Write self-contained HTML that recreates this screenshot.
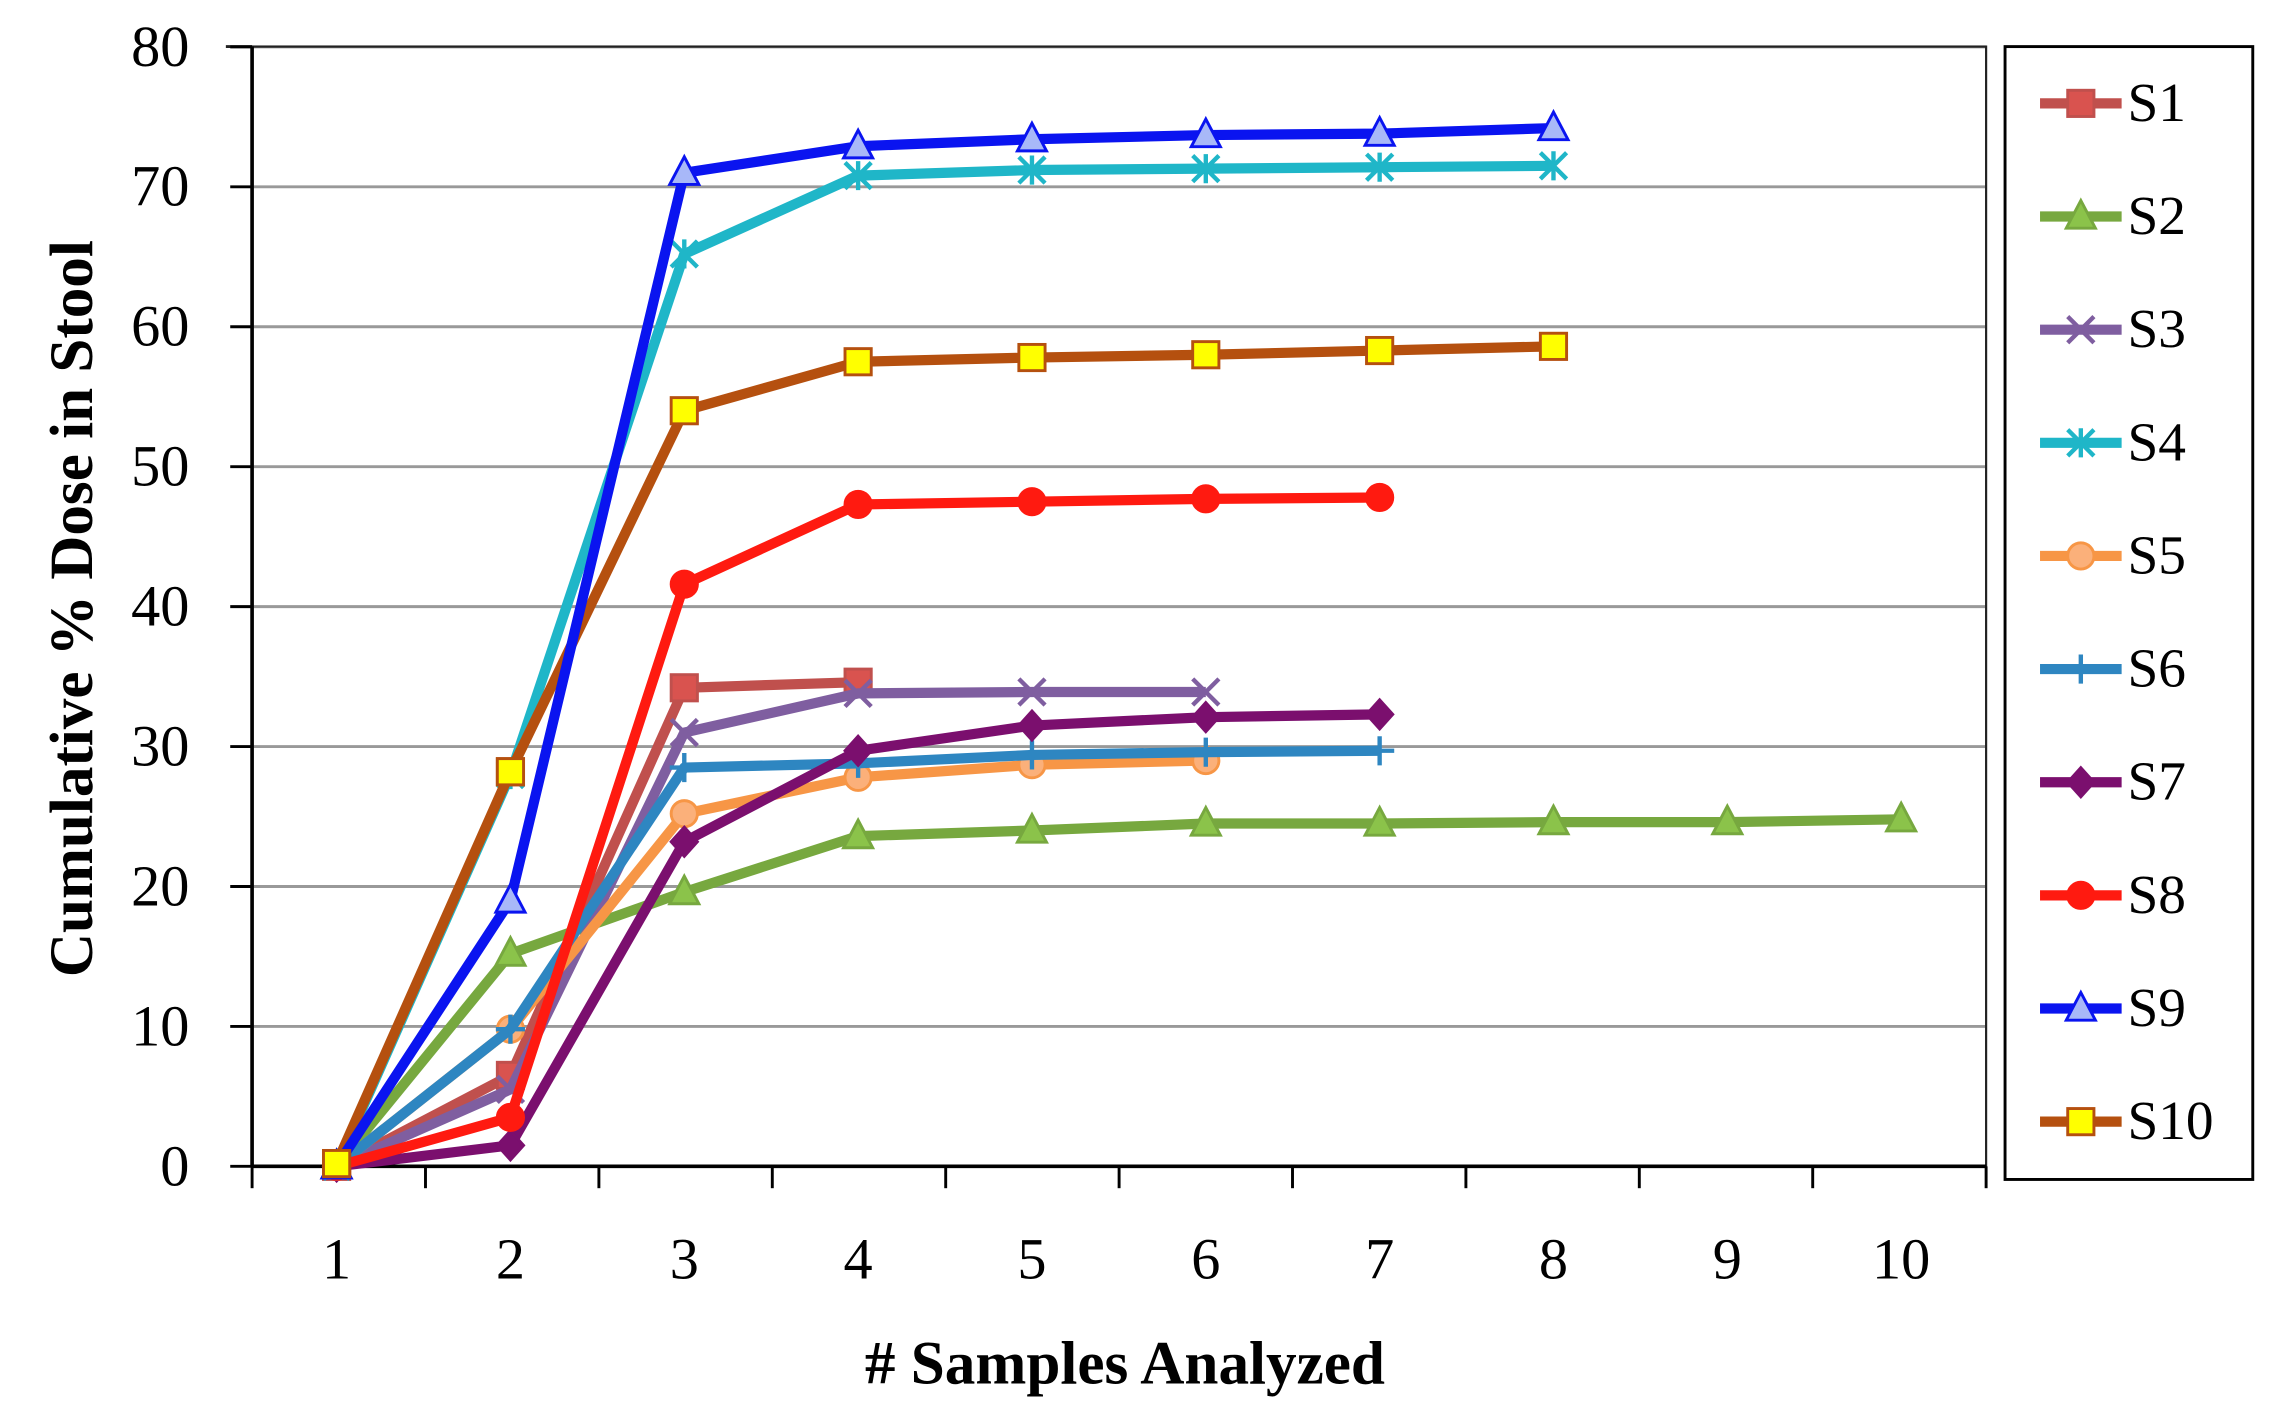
<!DOCTYPE html>
<html><head><meta charset="utf-8"><style>
html,body{margin:0;padding:0;background:#fff;width:2279px;height:1427px;overflow:hidden}
svg{display:block}
text{font-family:"Liberation Serif",serif}
</style></head><body>
<svg id="s" width="2279" height="1427" viewBox="0 0 1564 980" preserveAspectRatio="none" xmlns="http://www.w3.org/2000/svg">
</svg>
<script>
const s=document.getElementById('s');
let h='';
const X=i=>231+(i-1)*119.3, Y=v=>801-v*9.61;
for(let v=10;v<=80;v+=10)h+=`<line x1="173" x2="1363" y1="${Y(v)}" y2="${Y(v)}" stroke="#999" stroke-width="2"/>`;
h+=`<rect x="173" y="32" width="1190" height="769" fill="none" stroke="#222" stroke-width="1.5"/>`;
h+=`<line x1="155" x2="173" y1="32" y2="32" stroke="#222" stroke-width="2"/>`;
h+=`<line x1="173" x2="1363" y1="801" y2="801" stroke="#000" stroke-width="2.5"/>`;
h+=`<line x1="173" x2="173" y1="32" y2="801" stroke="#000" stroke-width="2.5"/>`;
for(let v=0;v<=80;v+=10){h+=`<line x1="158" x2="173" y1="${Y(v)}" y2="${Y(v)}" stroke="#000" stroke-width="2"/><text x="130" y="${Y(v)+13}" font-size="40" text-anchor="end">${v}</text>`;}
for(let i=0;i<=10;i++){const x=173+i*119;h+=`<line x1="${x}" x2="${x}" y1="801" y2="816" stroke="#000" stroke-width="2"/>`;}
for(let i=1;i<=10;i++)h+=`<text x="${X(i)}" y="878" font-size="40" text-anchor="middle">${i}</text>`;
h+=`<text x="772" y="950" font-size="42" font-weight="bold" text-anchor="middle"># Samples Analyzed</text>`;
h+=`<text transform="translate(63,418) rotate(-90)" font-size="42" font-weight="bold" text-anchor="middle">Cumulative % Dose in Stool</text>`;
const S=[
['S1','#c0504d','sq','#d9534f',[0,6.5,34.2,34.6]],
['S2','#77a83f','tri','#8bc34a',[0,15.2,19.6,23.6,24,24.5,24.5,24.6,24.6,24.8]],
['S3','#7f5ea0','x','#8064a2',[0,5.5,31,33.8,33.9,33.9]],
['S4','#1fb6c8','st','#1fb6c8',[0,28,65.2,70.8,71.2,71.3,71.4,71.5]],
['S5','#f79646','ci','#fbb07a',[0,9.8,25.2,27.8,28.7,29]],
['S6','#2e86c1','pl','#2e86c1',[0,9.8,28.5,28.8,29.4,29.6,29.7]],
['S7','#7b0f6e','di','#7b0f6e',[0,1.5,23.2,29.7,31.5,32.1,32.3]],
['S8','#ff1a10','ci','#ff1a10',[0,3.5,41.6,47.3,47.5,47.7,47.8]],
['S9','#0a14f0','tri','#a8b8f8',[0,19,71,72.9,73.4,73.7,73.8,74.2]],
['S10','#b5500f','sq','#ffff00',[0.2,28.2,54,57.5,57.8,58,58.3,58.6]]];
function mk(t,x,y,c,f){
 if(t=='sq')return `<rect x="${x-9}" y="${y-9}" width="18" height="18" fill="${f}" stroke="${c}" stroke-width="2"/>`;
 if(t=='tri')return `<polygon points="${x},${y-11} ${x-10},${y+8} ${x+10},${y+8}" fill="${f}" stroke="${c}" stroke-width="2"/>`;
 if(t=='ci')return `<circle cx="${x}" cy="${y}" r="9" fill="${f}" stroke="${c}" stroke-width="2"/>`;
 if(t=='x')return `<path d="M${x-9} ${y-9}L${x+9} ${y+9}M${x-9} ${y+9}L${x+9} ${y-9}" stroke="${c}" stroke-width="3"/>`;
 if(t=='st')return `<path d="M${x-9} ${y-9}L${x+9} ${y+9}M${x-9} ${y+9}L${x+9} ${y-9}M${x} ${y-10}V${y+10}" stroke="${c}" stroke-width="3"/>`;
 if(t=='pl')return `<path d="M${x-10} ${y}H${x+10}M${x} ${y-10}V${y+10}" stroke="${c}" stroke-width="3"/>`;
 if(t=='di')return `<polygon points="${x},${y-10} ${x+9},${y} ${x},${y+10} ${x-9},${y}" fill="${f}" stroke="${c}" stroke-width="2"/>`;
}
const order=[1,0,2,4,5,6,3,9,7,8];
for(const k of order){const [n,c,t,f,d]=S[k];
 h+=`<polyline fill="none" stroke="${c}" stroke-width="7" stroke-linejoin="round" points="${d.map((v,i)=>X(i+1)+','+Y(v)).join(' ')}"/>`;
 d.forEach((v,i)=>h+=mk(t,X(i+1),Y(v),c,f));}
h+=mk('sq',X(1),Y(0.2),'#b5500f','#ffff00')+mk('sq',X(2),Y(28.2),'#b5500f','#ffff00');
h+=`<rect x="1376" y="32" width="170" height="778" fill="#fff" stroke="#000" stroke-width="2"/>`;
S.forEach(([n,c,t,f],i)=>{const y=71+i*77.7;h+=`<line x1="1400" x2="1456" y1="${y}" y2="${y}" stroke="${c}" stroke-width="7"/>`+mk(t,1428,y,c,f)+`<text x="1460" y="${y+12}" font-size="38">${n}</text>`;});
s.innerHTML=h;
</script>
</body></html>
